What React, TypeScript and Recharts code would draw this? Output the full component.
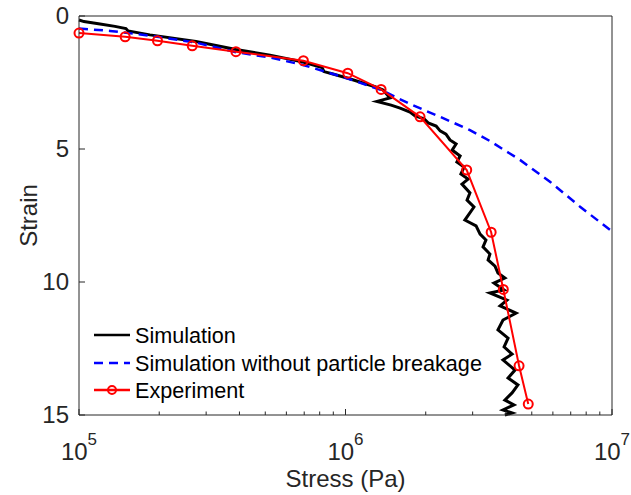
import React from 'react';
import { LineChart, Line, XAxis, YAxis } from 'recharts';

// Simulation (noisy black curve)
const simStress = [
  1.0e5, 1.044e5, 1.199e5, 1.365e5, 1.5e5, 1.528e5, 1.845e5, 2.748e5, 3.882e5, 5.21e5,
  6.93e5, 8.17e5, 8.3e5, 8.97e5, 1.021e6, 1.291e6, 1.384e6, 1.469e6, 1.312e6, 1.483e6,
  1.603e6, 1.746e6, 1.824e6, 1.972e6, 2.042e6, 2.188e6, 2.265e6, 2.382e6, 2.466e6, 2.6e6,
  2.512e6, 2.692e6, 2.618e6, 2.786e6, 2.71e6, 2.884e6, 2.735e6, 2.931e6, 2.858e6, 3.034e6,
  2.805e6, 3.09e6, 3.199e6, 3.365e6, 3.281e6, 3.483e6, 3.428e6, 3.639e6, 3.733e6, 3.963e6,
  3.606e6, 3.936e6, 3.483e6, 4.036e6, 3.802e6, 4.365e6, 3.899e6, 3.733e6, 4.074e6, 3.936e6,
  4.217e6, 3.899e6, 4.325e6, 4.074e6, 4.436e6, 4.217e6, 3.963e6, 4.285e6, 3.899e6, 4.217e6,
  3.963e6,
];
const simStrain = [
  0.15, 0.21, 0.3, 0.39, 0.47, 0.56, 0.71, 0.96, 1.26, 1.47,
  1.73, 1.94, 2.09, 2.18, 2.34, 2.66, 2.78, 3.08, 3.21, 3.35,
  3.46, 3.61, 3.76, 3.87, 4.02, 4.14, 4.32, 4.44, 4.66, 4.81,
  5.04, 5.26, 5.49, 5.68, 5.94, 6.13, 6.32, 6.65, 6.92, 7.18,
  7.67, 7.89, 8.2, 8.42, 8.68, 8.95, 9.17, 9.4, 9.66, 9.85,
  10.04, 10.3, 10.41, 10.68, 10.9, 11.17, 11.43, 11.8, 12.11, 12.44,
  12.71, 12.93, 13.31, 13.61, 13.87, 14.17, 14.44, 14.62, 14.81, 14.92,
  15.0,
];

// Simulation without particle breakage (blue dashed)
const noBreakStress = [
  1.0e5, 1.307e5, 1.846e5, 2.748e5, 3.88e5, 5.21e5, 6.93e5, 1.013e6, 1.359e6, 1.746e6,
  2.265e6, 2.931e6, 3.483e6, 4.515e6, 5.85e6, 7.59e6, 1.0e7,
];
const noBreakStrain = [
  0.47, 0.56, 0.74, 1.0, 1.36, 1.56, 1.84, 2.34, 2.78, 3.31,
  3.79, 4.29, 4.7, 5.41, 6.23, 7.17, 8.1,
];

// Experiment (red with circles)
const expStress = [
  1.0e5, 1.49e5, 1.97e5, 2.66e5, 3.88e5, 6.95e5, 1.02e6, 1.36e6, 1.904e6, 2.85e6,
  3.52e6, 3.91e6, 4.48e6, 4.85e6,
];
const expStrain = [
  0.64, 0.78, 0.93, 1.12, 1.34, 1.68, 2.15, 2.76, 3.79, 5.79,
  8.13, 10.28, 13.15, 14.59,
];

const xTicks = [
  1e5, 2e5, 3e5, 4e5, 5e5, 6e5, 7e5, 8e5, 9e5,
  1e6, 2e6, 3e6, 4e6, 5e6, 6e6, 7e6, 8e6, 9e6, 1e7,
];
const yTicks = [0, 5, 10, 15];

const FONT = '"Liberation Sans", Arial, Helvetica, sans-serif';
const AX = '#262626';

const toPoints = (xs: number[], ys: number[]) => xs.map((x, i) => ({ x, y: ys[i] }));

const simData = toPoints(simStress, simStrain);
const noBreakData = toPoints(noBreakStress, noBreakStrain);
const expData = toPoints(expStress, expStrain);

const isMajor = (v: number) => {
  const e = Math.round(Math.log10(v));
  return Math.abs(v - Math.pow(10, e)) < 1;
};

const BottomTick = (props: any) => {
  const { x, y, payload } = props;
  const v = payload.value;
  const major = isMajor(v);
  return (
    <g>
      <line x1={x} y1={y} x2={x} y2={y - (major ? 6 : 3.5)} stroke={AX} strokeWidth={1} />
      {major && (
        <text x={x} y={y + 45} textAnchor="middle" fill={AX} fontSize={24} fontFamily={FONT}>
          10
          <tspan dy={-15} fontSize={17}>
            {Math.round(Math.log10(v))}
          </tspan>
        </text>
      )}
    </g>
  );
};

const TopTick = (props: any) => {
  const { x, y, payload } = props;
  const major = isMajor(payload.value);
  return <line x1={x} y1={y} x2={x} y2={y + (major ? 6 : 3.5)} stroke={AX} strokeWidth={1} />;
};

const LeftTick = (props: any) => {
  const { x, y, payload } = props;
  return (
    <g>
      <line x1={x} y1={y} x2={x + 6} y2={y} stroke={AX} strokeWidth={1} />
      <text x={x - 10} y={y + 8} textAnchor="end" fill={AX} fontSize={24} fontFamily={FONT}>
        {payload.value}
      </text>
    </g>
  );
};

const RightTick = (props: any) => {
  const { x, y } = props;
  return <line x1={x} y1={y} x2={x - 6} y2={y} stroke={AX} strokeWidth={1} />;
};

const legendRows = [
  { label: 'Simulation', color: '#000000', dash: undefined, marker: false, y: 335 },
  { label: 'Simulation without particle breakage', color: '#0000ff', dash: '9 6', marker: false, y: 363 },
  { label: 'Experiment', color: '#ff0000', dash: undefined, marker: true, y: 390 },
];

const App = () => {
  return (
    <div style={{ position: 'absolute', left: 0, top: 0, width: 631, height: 495, background: '#fff' }}>
      <LineChart width={631} height={495} margin={{ top: 0, right: 0, bottom: 0, left: 0 }}>
        <XAxis
          xAxisId="bottom"
          type="number"
          dataKey="x"
          scale="log"
          domain={[1e5, 1e7]}
          ticks={xTicks}
          interval={0}
          height={80}
          tickSize={0}
          tickMargin={0}
          tickLine={false}
          tick={<BottomTick />}
          axisLine={{ stroke: AX, strokeWidth: 1 }}
        />
        <XAxis
          xAxisId="top"
          orientation="top"
          type="number"
          dataKey="x"
          scale="log"
          domain={[1e5, 1e7]}
          ticks={xTicks}
          interval={0}
          height={16}
          tickSize={0}
          tickMargin={0}
          tickLine={false}
          tick={<TopTick />}
          axisLine={{ stroke: AX, strokeWidth: 1 }}
        />
        <YAxis
          yAxisId="left"
          type="number"
          domain={[0, 15]}
          reversed
          ticks={yTicks}
          interval={0}
          width={79}
          tickSize={0}
          tickMargin={0}
          tickLine={false}
          tick={<LeftTick />}
          axisLine={{ stroke: AX, strokeWidth: 1 }}
        />
        <YAxis
          yAxisId="right"
          orientation="right"
          type="number"
          domain={[0, 15]}
          reversed
          ticks={yTicks}
          interval={0}
          width={19}
          tickSize={0}
          tickMargin={0}
          tickLine={false}
          tick={<RightTick />}
          axisLine={{ stroke: AX, strokeWidth: 1 }}
        />
        <Line
          xAxisId="bottom"
          yAxisId="left"
          data={simData}
          dataKey="y"
          type="linear"
          stroke="#000000"
          strokeWidth={3}
          dot={false}
          activeDot={false}
          isAnimationActive={false}
        />
        <Line
          xAxisId="bottom"
          yAxisId="left"
          data={noBreakData}
          dataKey="y"
          type="linear"
          stroke="#0000ff"
          strokeWidth={2.5}
          strokeDasharray="9 6"
          dot={false}
          activeDot={false}
          isAnimationActive={false}
        />
        <Line
          xAxisId="bottom"
          yAxisId="left"
          data={expData}
          dataKey="y"
          type="linear"
          stroke="#ff0000"
          strokeWidth={2}
          dot={{ r: 4.5, stroke: '#ff0000', strokeWidth: 2, fill: 'none' }}
          activeDot={false}
          isAnimationActive={false}
        />
      </LineChart>
      <svg
        width={631}
        height={495}
        style={{ position: 'absolute', left: 0, top: 0, pointerEvents: 'none' }}
      >
        <text x={345.5} y={487} textAnchor="middle" fill={AX} fontSize={24} fontFamily={FONT}>
          Stress (Pa)
        </text>
        <text
          x={37}
          y={215.5}
          transform="rotate(-90 37 215.5)"
          textAnchor="middle"
          fill={AX}
          fontSize={24}
          fontFamily={FONT}
        >
          Strain
        </text>
        {legendRows.map((r) => (
          <g key={r.label}>
            <line
              x1={94}
              x2={130}
              y1={r.y}
              y2={r.y}
              stroke={r.color}
              strokeWidth={2.5}
              strokeDasharray={r.dash}
            />
            {r.marker && <circle cx={112} cy={r.y} r={4} stroke={r.color} strokeWidth={2} fill="none" />}
            <text x={135} y={r.y + 8} fill="#000" fontSize={21.6} fontFamily={FONT}>
              {r.label}
            </text>
          </g>
        ))}
      </svg>
    </div>
  );
};

export default App;
